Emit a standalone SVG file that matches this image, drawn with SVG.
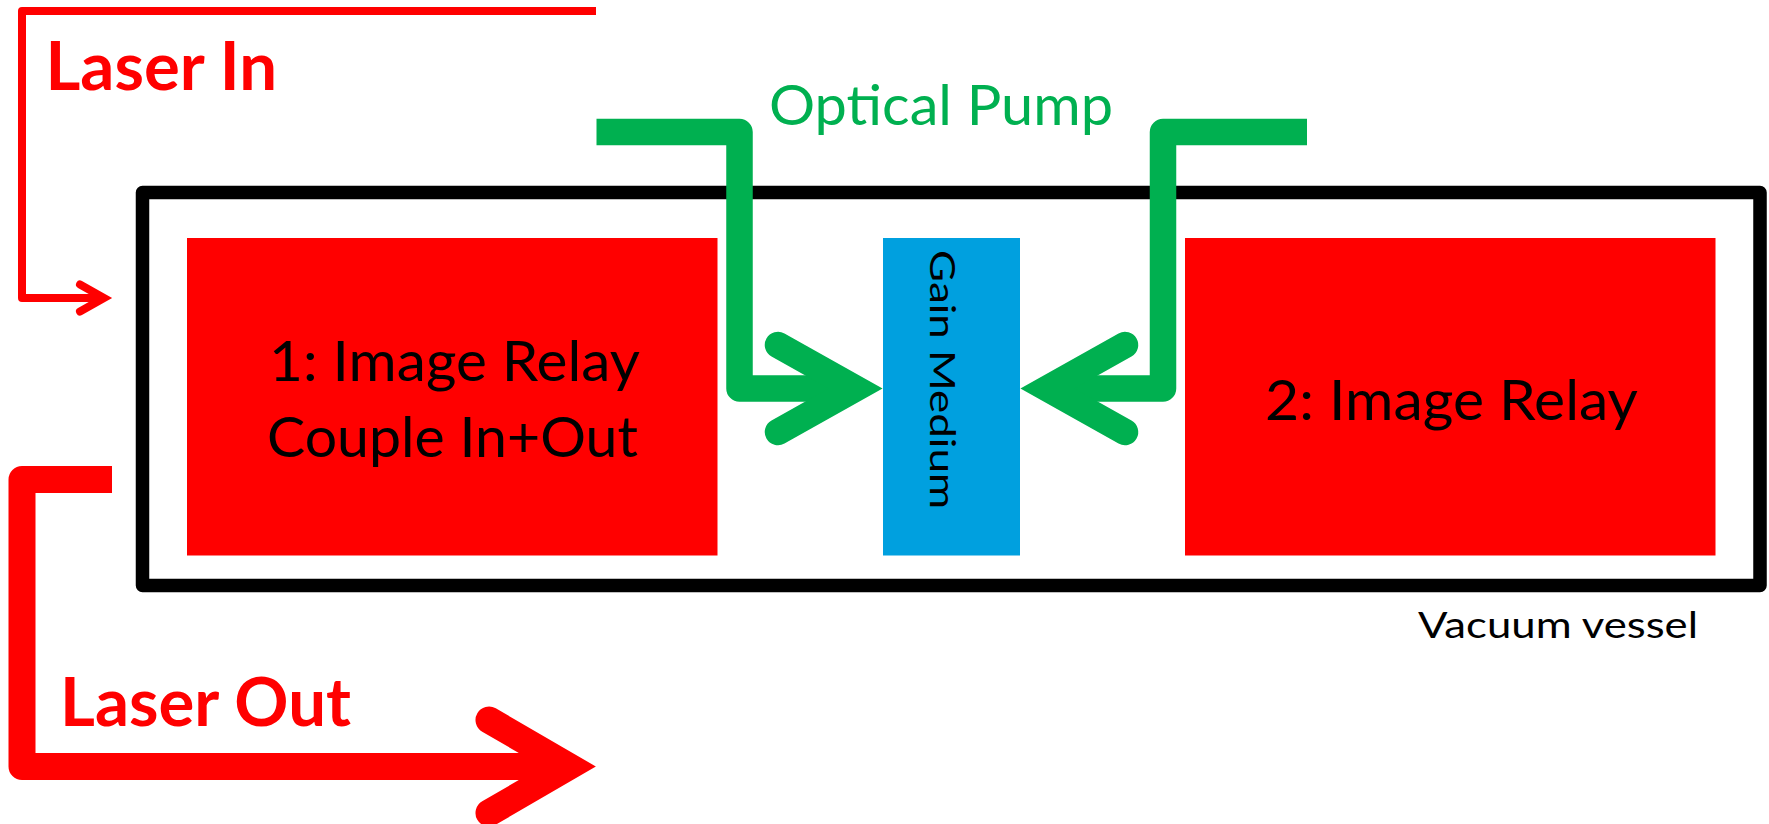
<svg xmlns="http://www.w3.org/2000/svg" width="1769" height="824" viewBox="0 0 1769 824">
<style>
.lbl{font-family:Lato,"Open Sans","Liberation Sans",sans-serif}
.big{font-size:67px;font-weight:bold;fill:#FF0000}
.box{font-size:57px;fill:#000}
.pump{font-size:56px;fill:#00B050}
.small{font-size:37px;fill:#000}
.gainT{font-size:34px;fill:#000}
.relay{fill:#FF0000}
.red{fill:none;stroke:#FF0000;stroke-linejoin:round}
.grn{fill:none;stroke:#00B050;stroke-width:26.5;stroke-linejoin:round}
.head{stroke-linejoin:miter;stroke-linecap:round}
</style>
<rect width="1769" height="824" fill="#FFFFFF"/>
<g id="vessel">
<rect x="142.5" y="192.5" width="1617.5" height="393" fill="none" stroke="#000" stroke-width="13.5" stroke-linejoin="round"/>
<text class="lbl small" x="1418" y="637.5" textLength="280" lengthAdjust="spacingAndGlyphs">Vacuum vessel</text>
</g>
<g id="relay1">
<rect class="relay" x="187" y="238" width="530.5" height="317.5"/>
<text class="lbl box" x="269" y="381" textLength="371" lengthAdjust="spacingAndGlyphs">1: Image Relay</text>
<text class="lbl box" x="267" y="457" textLength="371" lengthAdjust="spacingAndGlyphs">Couple In+Out</text>
</g>
<g id="relay2">
<rect class="relay" x="1185" y="238" width="530.5" height="317.5"/>
<text class="lbl box" x="1265" y="419.5" textLength="373" lengthAdjust="spacingAndGlyphs">2: Image Relay</text>
</g>
<g id="gain">
<rect x="883" y="238" width="137" height="317.5" fill="#00A0DF"/>
<text class="lbl gainT" transform="translate(930,250) rotate(90)" x="0" y="0" textLength="259" lengthAdjust="spacingAndGlyphs">Gain Medium</text>
</g>
<g id="connectors">
<g id="laser-in">
<path class="red" stroke-width="8" d="M596,11 H22 V298 H104"/>
<polyline class="red head" stroke-width="8" points="80,284.5 104,298 80,311.5"/>
</g>
<g id="laser-out">
<path class="red" stroke-width="27" d="M112,479.5 H22 V766.5 H569"/>
<polyline class="red head" stroke-width="27" points="489,720 569,766.5 489,813"/>
</g>
<g id="pump-left">
<path class="grn" d="M596.5,132 H739.5 V388.5 H855"/>
<polyline class="grn head" points="778,345 855.5,388.5 778,432"/>
</g>
<g id="pump-right">
<path class="grn" d="M1307,132 H1163 V388.5 H1047.5"/>
<polyline class="grn head" points="1125,345 1047.5,388.5 1125,432"/>
</g>
</g>
<g id="labels">
<text class="lbl big" x="45.5" y="90" textLength="231.5" lengthAdjust="spacingAndGlyphs">Laser In</text>
<text class="lbl big" x="60" y="726" textLength="291" lengthAdjust="spacingAndGlyphs">Laser Out</text>
<text class="lbl pump" x="769" y="125" textLength="344" lengthAdjust="spacingAndGlyphs">Optical Pump</text>
</g>
</svg>
